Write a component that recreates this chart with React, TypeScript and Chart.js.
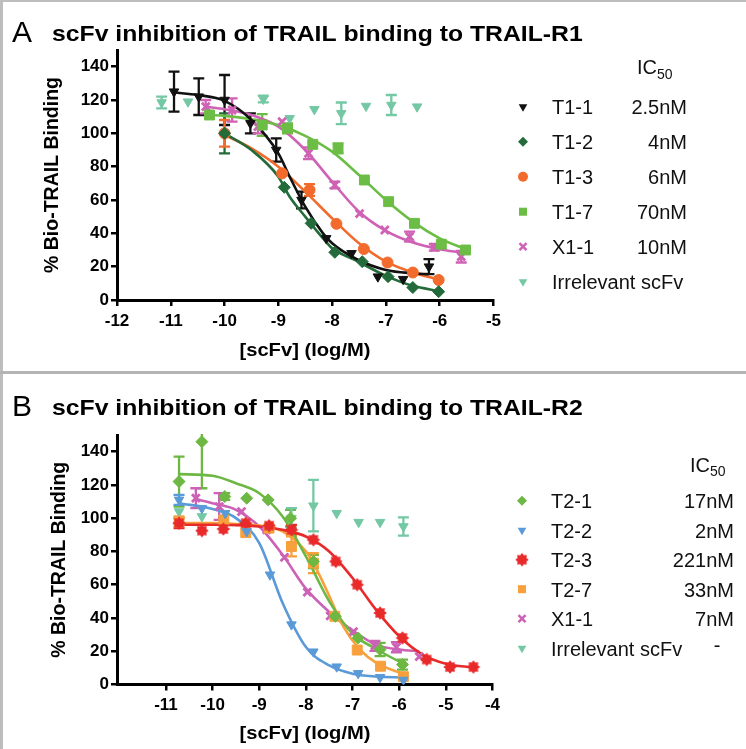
import React, { useEffect, useRef } from 'react';
import { Chart, registerables } from 'chart.js';
Chart.register(...registerables);

const FONT = "'Liberation Sans', Arial, Helvetica, sans-serif";

// ---------- Panel A data ----------
const A_X_TICKS = [-12, -11, -10, -9, -8, -7, -6, -5];
const A_Y_TICKS = [0, 20, 40, 60, 80, 100, 120, 140];
const A_NAMES = ['T1-1', 'T1-2', 'T1-3', 'T1-7', 'X1-1', 'Irrelevant scFv'];
const A_IC50 = ['2.5nM', '4nM', '6nM', '70nM', '10nM', ''];

const A_T11_X = [-10.94, -10.48, -10.0, -9.52, -9.04, -8.57, -8.11, -7.64, -7.15, -6.68, -6.2];
const A_T11_Y = [125, 122, 120, 106, 90, 60, 37, 28, 14, 12.5, 20];
const A_T11_E = [12, 11, 15, 6, 7, 5, 0, 0, 0, 0, 4.5];
const A_T11_CX = [-10.94, -10.5, -10, -9.5, -9.0, -8.79, -8.5, -8.17, -8.0, -7.55, -7.0, -6.5, -6.2];
const A_T11_CY = [124.5, 123, 119.5, 108, 88, 74, 56, 40, 34, 24.6, 18, 16, 15.5];

const A_T12_X = [-10.0, -8.89, -8.39, -7.95, -7.44, -6.96, -6.5, -6.02];
const A_T12_Y = [100, 67.6, 46, 28.6, 23, 14, 7.5, 5];
const A_T12_E = [12, 0, 0, 0, 0, 0, 0, 0];
const A_T12_CX = [-10, -9.5, -9.0, -8.79, -8.5, -8.17, -8.0, -7.55, -7.0, -6.5, -6.02];
const A_T12_CY = [100, 90, 74, 62, 50, 37, 31, 23.6, 14.5, 8.5, 5.4];

const A_T13_X = [-10.0, -8.93, -8.42, -7.92, -7.41, -6.97, -6.5, -6.02];
const A_T13_Y = [100, 76, 66, 45.7, 30.6, 22.5, 16.5, 12];
const A_T13_E = [8, 0, 3.5, 0, 0, 0, 0, 0];
const A_T13_CX = [-10, -9.5, -9.0, -8.5, -8.0, -7.5, -7.0, -6.5, -6.02];
const A_T13_CY = [99, 91, 80, 65, 49, 34, 23, 16.5, 12.3];

const A_T17_X = [-10.28, -9.3, -8.83, -8.36, -7.89, -7.4, -6.95, -6.47, -5.97, -5.52];
const A_T17_Y = [111, 105, 103, 93.4, 91, 72, 59, 46, 33.5, 30];
const A_T17_E = [0, 6.5, 3, 0, 3, 0, 0, 0, 0, 0];
const A_T17_CX = [-10.28, -10, -9.5, -9.0, -8.5, -8.0, -7.5, -7.0, -6.5, -6.0, -5.52];
const A_T17_CY = [111, 110.5, 108.5, 105, 98.5, 89, 75, 60, 47, 37, 30.5];

const A_X11_X = [-10.35, -9.86, -9.38, -8.93, -8.44, -7.95, -7.49, -7.02, -6.56, -6.1, -5.6];
const A_X11_Y = [116, 114, 104, 107, 88, 69, 51.8, 42, 38, 31.6, 26];
const A_X11_E = [4, 7, 4, 0, 3.5, 2, 0, 0, 3, 2, 3.5];
const A_X11_CX = [-10.35, -10, -9.5, -9.0, -8.5, -8.0, -7.5, -7.0, -6.5, -6.0, -5.6];
const A_X11_CY = [116, 114.5, 111, 104, 90, 71, 53, 41.5, 34.5, 30.5, 28.5];

const A_IRR_X = [-11.17, -10.68, -9.28, -8.79, -8.33, -7.83, -7.37, -6.9, -6.42];
const A_IRR_Y = [118.5, 119, 120.6, 109, 114.4, 112, 116.4, 117, 116];
const A_IRR_E = [3.5, 0, 2, 0, 0, 6.5, 0, 6, 0];

// ---------- Panel B data ----------
const B_X_TICKS = [-11, -10, -9, -8, -7, -6, -5, -4];
const B_Y_TICKS = [0, 20, 40, 60, 80, 100, 120, 140];
const B_NAMES = ['T2-1', 'T2-2', 'T2-3', 'T2-7', 'X1-1', 'Irrelevant scFv'];
const B_IC50 = ['17nM', '2nM', '221nM', '33nM', '7nM', '-'];

const B_T21_X = [-10.72, -10.23, -9.74, -9.27, -8.81, -8.33, -7.84, -7.37, -6.88, -6.41, -5.93];
const B_T21_Y = [122, 146, 113, 112, 111, 100, 74, 41, 28, 21, 12];
const B_T21_E = [15, 28, 2, 0, 0, 5, 4, 0, 0, 4, 3];
const B_T21_CX = [-10.72, -10, -9.5, -9, -8.5, -8, -7.5, -7, -6.5, -6, -5.93];
const B_T21_CY = [126.5, 125.5, 121, 115, 101, 77, 50, 30.5, 21.5, 14, 13.5];

const B_T22_X = [-10.72, -10.23, -9.73, -9.27, -8.77, -8.31, -7.84, -7.34, -6.88, -6.41, -5.91];
const B_T22_Y = [111, 106, 103, 92, 66, 36, 19.7, 10.7, 6.7, 4.3, 2.7];
const B_T22_E = [3, 0, 0, 0, 0, 0, 0, 0, 0, 0, 0];
const B_T22_CX = [-10.72, -10, -9.5, -9, -8.5, -8, -7.5, -7, -6.5, -5.91];
const B_T22_CY = [109, 105.5, 100, 85, 49, 22.5, 11.5, 6.5, 4.8, 4.2];

const B_T23_X = [-10.72, -10.23, -9.77, -9.29, -8.79, -8.31, -7.84, -7.36, -6.9, -6.41, -5.93, -5.41, -4.91, -4.41];
const B_T23_Y = [97, 92.5, 93.5, 97, 95.5, 93, 87, 74, 60, 43, 28, 15, 10.5, 10.5];
const B_T23_E = [3, 0, 0, 0, 0, 3, 0, 0, 0, 0, 0, 0, 0, 0];
const B_T23_CX = [-10.72, -10, -9.5, -9, -8.5, -8, -7.5, -7, -6.5, -6, -5.5, -5, -4.41];
const B_T23_CY = [96, 96, 95.8, 95, 93, 89, 80, 64, 45, 29, 18, 12.5, 10.2];

const B_T27_X = [-10.72, -9.76, -9.29, -8.79, -8.31, -7.84, -7.38, -6.9, -6.4, -5.91];
const B_T27_Y = [98, 99, 91.3, 94, 83, 73, 41, 20.7, 11, 4.7];
const B_T27_E = [3, 0, 0, 0, 6, 6, 0, 0, 0, 0];
const B_T27_CX = [-10.72, -10, -9.5, -9, -8.5, -8, -7.84, -7.56, -7.2, -6.84, -6.49, -5.91];
const B_T27_CY = [97, 97, 96.5, 95.5, 92, 80, 73, 57, 35, 21, 13, 6.3];

const B_X11_X = [-10.36, -9.86, -9.38, -8.84, -8.46, -7.97, -7.48, -6.98, -6.52, -6.06, -5.57];
const B_X11_Y = [112, 107, 104, 93, 76.5, 55.5, 41.3, 31.8, 23.2, 22.4, 16.7];
const B_X11_E = [6, 8, 0, 0, 0, 0, 0, 0, 3, 3, 0];
const B_X11_CX = [-10.36, -10, -9.5, -9, -8.5, -8, -7.5, -7, -6.5, -6, -5.57];
const B_X11_CY = [111.5, 109, 105, 95, 78, 57.6, 43.6, 32.5, 24, 21, 20];

const B_IRR_X = [-10.72, -10.23, -9.77, -8.31, -7.84, -7.34, -6.87, -6.41, -5.91];
const B_IRR_Y = [104, 101, 100, 100, 107.5, 103, 97.6, 97.6, 95];
const B_IRR_E = [0, 0, 0, 6, 15.5, 0, 0, 0, 5.5];

// ---------- styles ----------
const A_COLORS = ['#111111', '#236b3a', '#f26b2c', '#6cbd45', '#cf62b5', '#74c8a4'];
const B_COLORS = ['#6cb843', '#5a9ad8', '#e82a2a', '#f7a03c', '#cb62b6', '#74c8a4'];
const A_MARKERS = ['tri', 'diamond', 'circle', 'square', 'cross', 'tri'];
const B_MARKERS = ['diamond', 'tri', 'star', 'square', 'cross', 'tri'];

type Series = { x: number[]; y: number[]; e: number[]; cx?: number[]; cy?: number[] };

const A_SERIES: Series[] = [
  { x: A_T11_X, y: A_T11_Y, e: A_T11_E, cx: A_T11_CX, cy: A_T11_CY },
  { x: A_T12_X, y: A_T12_Y, e: A_T12_E, cx: A_T12_CX, cy: A_T12_CY },
  { x: A_T13_X, y: A_T13_Y, e: A_T13_E, cx: A_T13_CX, cy: A_T13_CY },
  { x: A_T17_X, y: A_T17_Y, e: A_T17_E, cx: A_T17_CX, cy: A_T17_CY },
  { x: A_X11_X, y: A_X11_Y, e: A_X11_E, cx: A_X11_CX, cy: A_X11_CY },
  { x: A_IRR_X, y: A_IRR_Y, e: A_IRR_E },
];
const B_SERIES: Series[] = [
  { x: B_T21_X, y: B_T21_Y, e: B_T21_E, cx: B_T21_CX, cy: B_T21_CY },
  { x: B_T22_X, y: B_T22_Y, e: B_T22_E, cx: B_T22_CX, cy: B_T22_CY },
  { x: B_T23_X, y: B_T23_Y, e: B_T23_E, cx: B_T23_CX, cy: B_T23_CY },
  { x: B_T27_X, y: B_T27_Y, e: B_T27_E, cx: B_T27_CX, cy: B_T27_CY },
  { x: B_X11_X, y: B_X11_Y, e: B_X11_E, cx: B_X11_CX, cy: B_X11_CY },
  { x: B_IRR_X, y: B_IRR_Y, e: B_IRR_E },
];

type PanelSpec = {
  letter: string;
  title: string;
  height: number;
  top: number;
  padTop: number;
  padRight: number;
  xAxisH: number;
  xMin: number;
  xMax: number;
  xTicks: number[];
  yTicks: number[];
  names: string[];
  ic50: string[];
  colors: string[];
  markers: string[];
  series: Series[];
  titleBase: number;
  yTitleX: number;
  xTitleBase: number;
  icX: number;
  icBase: number;
  markerX: number;
  labelX: number;
  valueRight: number;
  row0: number;
  rowStep: number;
};

const PANEL_A: PanelSpec = {
  letter: 'A',
  title: 'scFv inhibition of TRAIL binding to TRAIL-R1',
  height: 372, top: 0, padTop: 50, padRight: 252.5, xAxisH: 72,
  xMin: -12, xMax: -5, xTicks: A_X_TICKS, yTicks: A_Y_TICKS,
  names: A_NAMES, ic50: A_IC50, colors: A_COLORS, markers: A_MARKERS, series: A_SERIES,
  titleBase: 41, yTitleX: 53, xTitleBase: 356,
  icX: 637, icBase: 74, markerX: 523, labelX: 552, valueRight: 687, row0: 106.7, rowStep: 35,
};

const PANEL_B: PanelSpec = {
  letter: 'B',
  title: 'scFv inhibition of TRAIL binding to TRAIL-R2',
  height: 375, top: 374, padTop: 61, padRight: 253.5, xAxisH: 64.5,
  xMin: -12.05, xMax: -4, xTicks: B_X_TICKS, yTicks: B_Y_TICKS,
  names: B_NAMES, ic50: B_IC50, colors: B_COLORS, markers: B_MARKERS, series: B_SERIES,
  titleBase: 41, yTitleX: 60, xTitleBase: 365,
  icX: 690, icBase: 97.7, markerX: 522, labelX: 551, valueRight: 734, row0: 126.7, rowStep: 29.5,
};

function makeStar(color: string) {
  const c = document.createElement('canvas');
  c.width = 16; c.height = 16;
  const g = c.getContext('2d')!;
  g.fillStyle = color;
  g.beginPath();
  const pts = 8;
  for (let i = 0; i < pts * 2; i++) {
    const r = i % 2 === 0 ? 6.8 : 4.8;
    const a = (Math.PI * i) / pts - Math.PI / 2;
    g.lineTo(8 + r * Math.cos(a), 8 + r * Math.sin(a));
  }
  g.closePath();
  g.fill();
  return c;
}

function drawMarker(ctx: CanvasRenderingContext2D, m: string, x: number, y: number, r: number, color: string, star?: HTMLCanvasElement) {
  ctx.save();
  ctx.fillStyle = color;
  ctx.strokeStyle = color;
  ctx.beginPath();
  if (m === 'tri') {
    ctx.moveTo(x - r * 0.866, y - r * 0.5);
    ctx.lineTo(x + r * 0.866, y - r * 0.5);
    ctx.lineTo(x, y + r);
    ctx.closePath();
    ctx.fill();
  } else if (m === 'diamond') {
    ctx.moveTo(x, y - r); ctx.lineTo(x + r, y); ctx.lineTo(x, y + r); ctx.lineTo(x - r, y);
    ctx.closePath(); ctx.fill();
  } else if (m === 'circle') {
    ctx.arc(x, y, r, 0, Math.PI * 2); ctx.fill();
  } else if (m === 'square') {
    const s = r * 0.8;
    ctx.fillRect(x - s, y - s, 2 * s, 2 * s);
  } else if (m === 'cross') {
    const d = r * 0.707;
    ctx.lineWidth = 2.5;
    ctx.moveTo(x - d, y - d); ctx.lineTo(x + d, y + d);
    ctx.moveTo(x + d, y - d); ctx.lineTo(x - d, y + d);
    ctx.stroke();
  } else if (m === 'star' && star) {
    ctx.drawImage(star, x - star.width / 2, y - star.height / 2);
  }
  ctx.restore();
}

const errorBarPlugin = {
  id: 'errbars',
  beforeDatasetsDraw(chart: any) {
    const { ctx, chartArea, scales } = chart;
    const ys = scales.y;
    ctx.save();
    ctx.beginPath();
    ctx.rect(chartArea.left, chartArea.top - 1, chartArea.right - chartArea.left + 8, chartArea.bottom - chartArea.top + 1);
    ctx.clip();
    chart.data.datasets.forEach((ds: any, di: number) => {
      const errs = ds.errs;
      if (!errs) return;
      const meta = chart.getDatasetMeta(di);
      ctx.strokeStyle = ds.borderColor;
      ctx.lineWidth = 2.3;
      meta.data.forEach((pt: any, i: number) => {
        const e = errs[i];
        if (!e) return;
        const v = ds.data[i].y;
        const y1 = ys.getPixelForValue(v + e);
        const y2 = ys.getPixelForValue(v - e);
        ctx.beginPath();
        ctx.moveTo(pt.x, y1); ctx.lineTo(pt.x, y2);
        ctx.moveTo(pt.x - 5.5, y1); ctx.lineTo(pt.x + 5.5, y1);
        ctx.moveTo(pt.x - 5.5, y2); ctx.lineTo(pt.x + 5.5, y2);
        ctx.stroke();
      });
    });
    ctx.restore();
  },
};

function scaledText(ctx: CanvasRenderingContext2D, text: string, x: number, y: number, sx: number, align: CanvasTextAlign) {
  ctx.save();
  ctx.translate(x, y);
  ctx.scale(sx, 1);
  ctx.textAlign = align;
  ctx.fillText(text, 0, 0);
  ctx.restore();
}

function makeTextPlugin(p: PanelSpec, stars: (HTMLCanvasElement | undefined)[]) {
  return {
    id: 'panelTexts',
    afterDraw(chart: any) {
      const ctx: CanvasRenderingContext2D = chart.ctx;
      const ca = chart.chartArea;
      ctx.save();
      ctx.fillStyle = '#000';
      ctx.textBaseline = 'alphabetic';
      // letter
      ctx.font = `30px ${FONT}`;
      ctx.textAlign = 'left';
      ctx.fillText(p.letter, 12, p.titleBase + 1);
      // title
      ctx.font = `bold 22px ${FONT}`;
      scaledText(ctx, p.title, 52, p.titleBase, 1.125, 'left');
      // x title
      ctx.font = `bold 18px ${FONT}`;
      scaledText(ctx, '[scFv] (log/M)', 305, p.xTitleBase, 1.12, 'center');
      // y title
      ctx.save();
      ctx.translate(p.yTitleX, (ca.top + ca.bottom) / 2);
      ctx.rotate(-Math.PI / 2);
      ctx.font = `bold 19.5px ${FONT}`;
      ctx.textAlign = 'center';
      ctx.textBaseline = 'middle';
      ctx.fillText('% Bio-TRAIL Binding', 0, 0);
      ctx.restore();
      // legend header
      ctx.fillStyle = '#111';
      ctx.font = `20px ${FONT}`;
      ctx.textAlign = 'left';
      ctx.fillText('IC', p.icX, p.icBase);
      const icW = ctx.measureText('IC').width;
      ctx.font = `14px ${FONT}`;
      ctx.fillText('50', p.icX + icW, p.icBase + 4.5);
      // legend rows
      p.names.forEach((name, i) => {
        const cy = p.row0 + i * p.rowStep;
        drawMarker(ctx, p.markers[i], p.markerX, cy, 5, p.colors[i], stars[i]);
        ctx.fillStyle = '#111';
        ctx.font = `20px ${FONT}`;
        ctx.textAlign = 'left';
        ctx.fillText(name, p.labelX, cy + 7.5);
        const v = p.ic50[i];
        if (v === '-') {
          ctx.textAlign = 'center';
          ctx.fillText(v, 717, cy + 4);
        } else if (v) {
          ctx.textAlign = 'right';
          ctx.fillText(v, p.valueRight, cy + 7.5);
        }
      });
      ctx.restore();
    },
  };
}

function buildConfig(p: PanelSpec) {
  const stars = p.markers.map((m, i) => (m === 'star' ? makeStar(p.colors[i]) : undefined));
  const datasets: any[] = [];
  p.series.forEach((s, i) => {
    const color = p.colors[i];
    const m = p.markers[i];
    if (s.cx && s.cy) {
      const cy = s.cy;
      datasets.push({
        type: 'scatter',
        label: p.names[i] + ' fit',
        data: s.cx.map((v, k) => ({ x: v, y: cy[k] })),
        showLine: true,
        pointRadius: 0,
        borderColor: color,
        backgroundColor: color,
        borderWidth: 2.6,
        cubicInterpolationMode: 'monotone',
        fill: false,
        order: 1,
      });
    }
    const style =
      m === 'tri' ? 'triangle' : m === 'diamond' ? 'rectRot' : m === 'circle' ? 'circle' : m === 'square' ? 'rect' : m === 'cross' ? 'crossRot' : stars[i];
    datasets.push({
      type: 'scatter',
      label: p.names[i],
      data: s.x.map((v, k) => ({ x: v, y: s.y[k] })),
      errs: s.e,
      showLine: false,
      borderColor: color,
      backgroundColor: color,
      pointStyle: style,
      pointRotation: m === 'tri' ? 180 : 0,
      pointRadius: m === 'square' ? 7 : m === 'diamond' ? 6 : 5.5,
      pointBorderWidth: m === 'cross' ? 2.8 : 1,
      order: 0,
    });
  });

  const tickFont = { family: FONT, size: 17, weight: 'bold' as const };
  const grid = {
    display: true,
    drawOnChartArea: false,
    drawTicks: true,
    tickLength: 6,
    tickWidth: 2.5,
    tickColor: '#000',
    lineWidth: 2.5,
    color: '#000',
  };
  return {
    type: 'scatter' as const,
    data: { datasets },
    options: {
      animation: false as const,
      responsive: false,
      maintainAspectRatio: false,
      layout: { padding: { left: 0, right: p.padRight, top: p.padTop, bottom: 0 } },
      plugins: { legend: { display: false }, tooltip: { enabled: false }, title: { display: false } },
      scales: {
        x: {
          type: 'linear' as const,
          min: p.xMin,
          max: p.xMax,
          afterBuildTicks: (s: any) => { s.ticks = p.xTicks.map((v) => ({ value: v })); },
          afterFit: (s: any) => { s.height = p.xAxisH; },
          ticks: { color: '#000', font: tickFont, padding: 5, maxRotation: 0, autoSkip: false, callback: (v: any) => String(v) },
          grid,
          border: { display: true, color: '#000', width: 3 },
        },
        y: {
          type: 'linear' as const,
          min: 0,
          max: 150,
          afterBuildTicks: (s: any) => { s.ticks = p.yTicks.map((v) => ({ value: v })); },
          afterFit: (s: any) => { s.width = 117; },
          ticks: { color: '#000', font: tickFont, padding: 2, autoSkip: false, callback: (v: any) => String(v) },
          grid,
          border: { display: true, color: '#000', width: 3 },
        },
      },
    },
    plugins: [errorBarPlugin, makeTextPlugin(p, stars)],
  };
}

function Panel({ spec }: { spec: PanelSpec }) {
  const ref = useRef<HTMLCanvasElement | null>(null);
  useEffect(() => {
    if (!ref.current) return;
    const chart = new Chart(ref.current, buildConfig(spec) as any);
    return () => chart.destroy();
  }, [spec]);
  return (
    <canvas
      ref={ref}
      width={746}
      height={spec.height}
      style={{ position: 'absolute', left: 0, top: spec.top, width: 746, height: spec.height }}
    />
  );
}

export default function App() {
  return (
    <div style={{ position: 'absolute', left: 0, top: 0, width: 746, height: 749, background: '#fff', overflow: 'hidden' }}>
      <Panel spec={PANEL_A} />
      <Panel spec={PANEL_B} />
      <div style={{ position: 'absolute', left: 0, top: 0, width: 746, height: 2, background: '#bdbdbd' }} />
      <div style={{ position: 'absolute', left: 0, top: 0, width: 3, height: 749, background: '#bdbdbd' }} />
      <div style={{ position: 'absolute', left: 0, top: 371, width: 746, height: 2.5, background: '#b4b4b4' }} />
    </div>
  );
}
